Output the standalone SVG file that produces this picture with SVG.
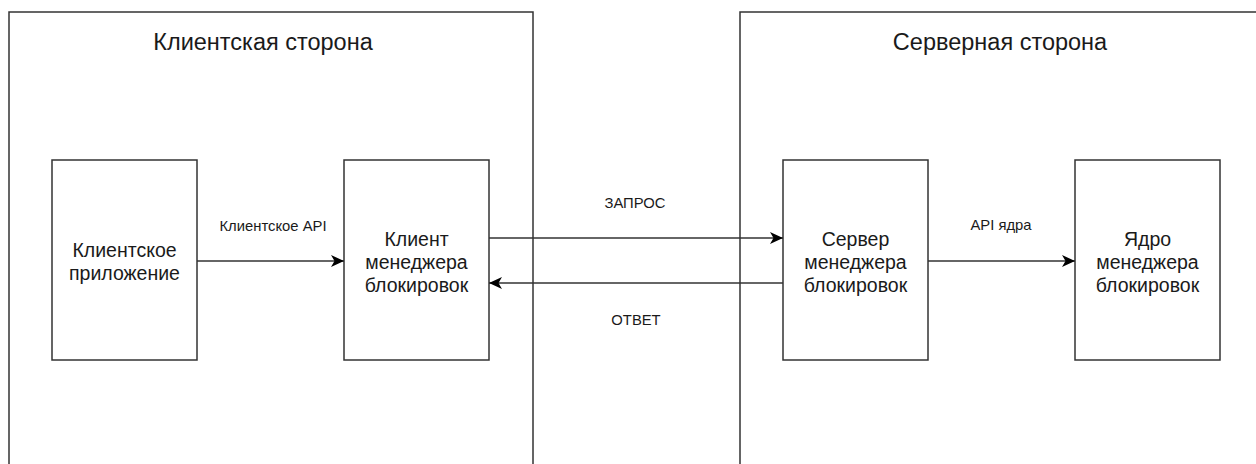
<svg xmlns="http://www.w3.org/2000/svg" width="1256" height="464" viewBox="0 0 1256 464">
<style>
.c{fill:#fff;stroke:#333;stroke-width:1.5}
.n{fill:#fff;stroke:#333;stroke-width:1.5}
.t{font-family:"Liberation Sans",Arial,sans-serif;fill:#1a1a1a;text-anchor:middle}
.title{font-size:23.5px}
.box{font-size:19.5px}
.lbl{font-size:14.8px}
.e{fill:none;stroke:#333;stroke-width:1.5}
</style>
<defs>
<marker id="arr" markerUnits="userSpaceOnUse" markerWidth="16" markerHeight="14" viewBox="0 0 16 14" refX="14" refY="7" orient="auto">
<path d="M1,1 L14,7 L1,13 L4.5,7 Z" fill="#000"/>
</marker>
</defs>
<rect width="1256" height="464" fill="#fff"/>
<g id="client-side">
<rect class="c" x="9" y="12" width="524" height="470"/>
<text class="t title" x="263" y="50">Клиентская сторона</text>
</g>
<g id="server-side">
<rect class="c" x="740" y="12" width="540" height="470"/>
<text class="t title" x="1000" y="50">Серверная сторона</text>
</g>
<g id="client-app">
<rect class="n" x="52" y="160" width="145" height="200"/>
<text class="t box" x="124.5" y="256.7">Клиентское</text>
<text class="t box" x="124.5" y="280">приложение</text>
</g>
<g id="lock-client">
<rect class="n" x="344" y="160" width="145" height="200"/>
<text class="t box" x="416.5" y="245.7">Клиент</text>
<text class="t box" x="416.5" y="269">менеджера</text>
<text class="t box" x="416.5" y="292.3">блокировок</text>
</g>
<g id="lock-server">
<rect class="n" x="783" y="160" width="145" height="200"/>
<text class="t box" x="855.5" y="245.7">Сервер</text>
<text class="t box" x="855.5" y="269">менеджера</text>
<text class="t box" x="855.5" y="292.3">блокировок</text>
</g>
<g id="lock-core">
<rect class="n" x="1075" y="160" width="145" height="200"/>
<text class="t box" x="1147.5" y="245.7">Ядро</text>
<text class="t box" x="1147.5" y="269">менеджера</text>
<text class="t box" x="1147.5" y="292.3">блокировок</text>
</g>
<g id="connectors">
<path class="e" d="M197,261 H344" marker-end="url(#arr)"/>
<path class="e" d="M489,238 H783" marker-end="url(#arr)"/>
<path class="e" d="M783,283 H489" marker-end="url(#arr)"/>
<path class="e" d="M928,261 H1075" marker-end="url(#arr)"/>
<text class="t lbl" x="273" y="231">Клиентское API</text>
<text class="t lbl" x="635" y="207.5">ЗАПРОС</text>
<text class="t lbl" x="636" y="325">ОТВЕТ</text>
<text class="t lbl" x="1001" y="230">API ядра</text>
</g>
</svg>
